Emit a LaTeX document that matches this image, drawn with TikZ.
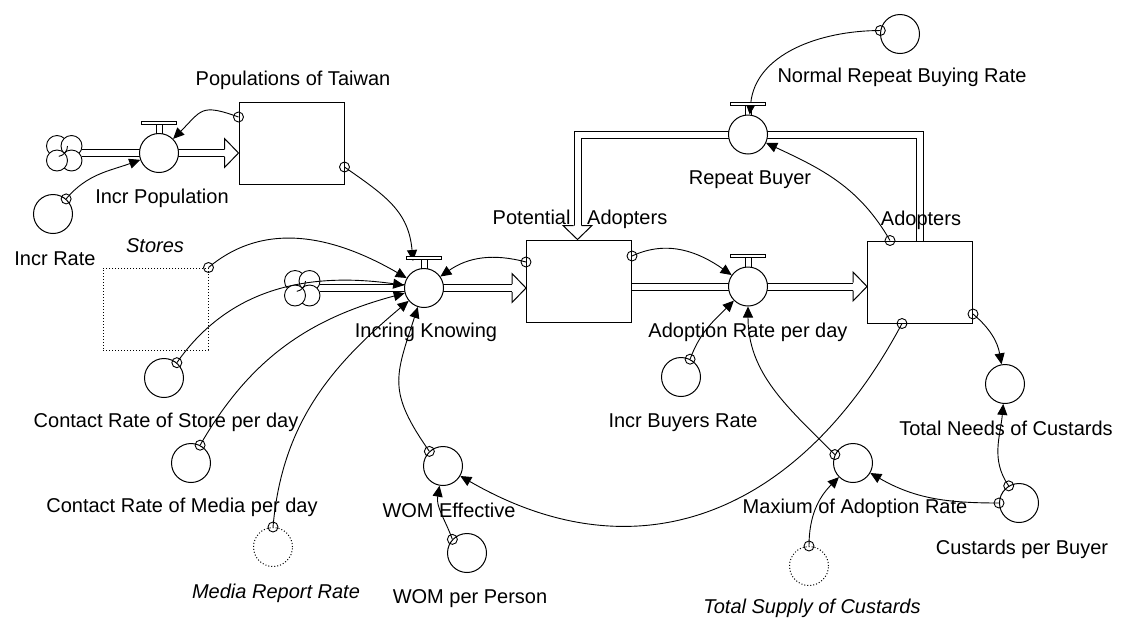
\documentclass[tikz,border=0pt]{standalone}
\usepackage{fontspec}
\setmainfont{Liberation Sans}
\usetikzlibrary{arrows.meta,backgrounds}
\pgfdeclarelayer{bg}
\pgfdeclarelayer{mid}
\pgfsetlayers{bg,mid,main}
\tikzset{
  stock/.style={draw, fill=white, line width=1pt, minimum width=105pt, minimum height=82pt, inner sep=0pt},
  valve/.style={draw, fill=white, circle, line width=1pt, minimum size=39pt, inner sep=0pt},
  aux/.style={draw, fill=white, circle, line width=1pt, minimum size=39pt, inner sep=0pt},
  ghost/.style={aux, dotted},
  ghostbox/.style={draw, dotted, line width=1pt, minimum width=105pt, minimum height=82pt, inner sep=0pt},
  cloudnode/.style={circle, minimum size=36pt, inner sep=0pt},
  lbl/.style={inner sep=0pt, font=\fontsize{20}{24}\selectfont, text height=14.5pt, text depth=4pt},
  conn/.style={line width=0.9pt, -{Triangle[length=11pt,width=10pt]}},
  pipe/.style={line width=1pt, double, double distance=6pt},
  valvetop/.pic={
    \draw[line width=0.9pt] (-3,19.5) -- (-3,29) (3,19.5) -- (3,29);
    \draw[line width=0.9pt, fill=white] (-17.5,29) rectangle (17.5,32);
  },
  cloudpic/.pic={
    \foreach \p in {(-7,7),(7.5,7),(7.5,-7.5),(-7,-7.5)}
      \draw[line width=0.9pt, fill=white] \p circle (10.5);
    \draw[line width=0.9pt] (-7,7) ++(0:10.5) arc[start angle=0, end angle=-80, radius=10.5];
  },
  pipehead/.pic={
    \path[fill=white] (0,0) -- (-14,14.5) -- (-14,-14.5) -- cycle;
    \draw[line width=1pt] (-14,4) -- (-14,14.5) -- (0,0) -- (-14,-14.5) -- (-14,-4);
  },
}
\begin{document}
\begin{tikzpicture}[x=1pt,y=1pt]
\useasboundingbox (0,0) rectangle (1121,-619);

% stocks
\node[stock] (popTW) at (291.5,-143) {};
\node[stock] (potAd) at (579,-281) {};
\node[stock] (adopt) at (920,-282) {};
\node[ghostbox] (stores) at (155.5,-309) {};

% clouds
\node[cloudnode] (c1) at (64,-153) {};
\node[cloudnode] (c2) at (302,-288) {};

% valves
\node[valve] (vIP) at (159,-153) {};
\node[valve] (vIK) at (424,-288) {};
\node[valve] (vAR) at (748,-286.5) {};
\node[valve] (vRB) at (748,-134.5) {};
\pic at (vIP) {valvetop};
\pic at (vIK) {valvetop};
\pic at (vAR) {valvetop};
\pic at (vRB) {valvetop};

% auxiliaries
\node[aux] (incrRate) at (53,-214) {};
\node[aux] (conStore) at (164,-378) {};
\node[aux] (conMedia) at (191,-463) {};
\node[ghost] (mediaRep) at (273,-547) {};
\node[aux] (womEff) at (443,-466) {};
\node[aux] (womPer) at (467,-553) {};
\node[aux] (incrBuy) at (681,-377) {};
\node[aux] (maxAd) at (853,-463) {};
\node[ghost] (totSup) at (809,-566) {};
\node[aux] (custPB) at (1019,-503) {};
\node[aux] (totNeed) at (1005,-384) {};
\node[aux] (normRep) at (900,-34) {};

% labels
\node[lbl] (lPT) at (293,-80) {Populations of Taiwan};
\node[lbl] (lIP) at (162,-198) {Incr Population};
\node[lbl] (lIR) at (55,-260) {Incr Rate};
\node[lbl] (lST) at (155,-247) {\itshape Stores};
\node[lbl] (lCS) at (166,-422) {Contact Rate of Store per day};
\node[lbl] (lCM) at (182,-507) {Contact Rate of Media per day};
\node[lbl] (lMR) at (276,-593) {\itshape Media Report Rate};
\node[lbl] (lIK) at (426,-332) {Incring Knowing};
\node[lbl] (lPA) at (580,-219) {Potential\ \ \ Adopters};
\node[lbl] (lAR) at (748,-332) {Adoption Rate per day};
\node[lbl] (lRB) at (750,-179) {Repeat Buyer};
\node[lbl] (lNR) at (902,-77) {Normal Repeat Buying Rate};
\node[lbl] (lAD) at (921,-220) {Adopters};
\node[lbl] (lIB) at (683,-422) {Incr Buyers Rate};
\node[lbl] (lTN) at (1006,-430) {Total Needs of Custards};
\node[lbl] (lMA) at (855,-508) {Maxium of Adoption Rate};
\node[lbl] (lCP) at (1022,-549) {Custards per Buyer};
\node[lbl] (lTS) at (812,-608) {\itshape Total Supply of Custards};
\node[lbl] (lWE) at (449,-512) {WOM Effective};
\node[lbl] (lWP) at (470,-598) {WOM per Person};

% connector origins
\coordinate (mIR) at (incrRate.49);
\coordinate (mPT1) at ([yshift=26pt]popTW.west);
\coordinate (mPT2) at ([yshift=-24pt]popTW.east);
\coordinate (mST) at (stores.north east);
\coordinate (mCS) at (conStore.50);
\coordinate (mCM) at (conMedia.63);
\coordinate (mMR) at (mediaRep.90);
\coordinate (mWE) at (womEff.133);
\coordinate (mWP) at (womPer.137);
\coordinate (mPA1) at ([yshift=19pt]potAd.west);
\coordinate (mPA2) at ([yshift=25pt]potAd.east);
\coordinate (mIB) at (incrBuy.63);
\coordinate (mMA) at (maxAd.155);
\coordinate (mTS) at (totSup.90);
\coordinate (mCP1) at (custPB.180);
\coordinate (mCP2) at (custPB.121);
\coordinate (mAD1) at ([yshift=-32pt]adopt.east);
\coordinate (mAD2) at ([xshift=-18pt]adopt.south);
\coordinate (mAD3) at ([xshift=-30pt]adopt.north);
\coordinate (mNR) at (normRep.170);
% arrival point at the top of Incring Knowing
\coordinate (tIK) at ([xshift=-11pt,yshift=7pt]vIK.north);

% pipe end points
\coordinate (h1) at (popTW.west |- vIP);
\coordinate (h2) at (potAd.west |- vIK);
\coordinate (h3s) at (potAd.east |- vAR);
\coordinate (h3) at (adopt.west |- vAR);
\coordinate (h4) at ([xshift=-1.5pt]potAd.north);

\begin{pgfonlayer}{bg}
  \draw[pipe] (c1.east |- vIP) -- ([xshift=-14pt]h1);
  \draw[pipe] (c2.east |- vIK) -- ([xshift=-14pt]h2);
  \draw[pipe] (h3s) -- ([xshift=-14pt]h3);
  \draw[pipe] (adopt.north) |- (vRB.center) -| ([yshift=14pt]h4);
  \pic at (h1) {pipehead};
  \pic at (h2) {pipehead};
  \pic at (h3) {pipehead};
  \pic[rotate=-90] at (h4) {pipehead};
  \pic at (c1) {cloudpic};
  \pic at (c2) {cloudpic};
\end{pgfonlayer}

\begin{pgfonlayer}{mid}
  \draw[conn] (mIR) to[out=50,in=200] (vIP);
  \draw[conn] (mPT1) to[out=160,in=45,looseness=1.5] (vIP);
  \draw[conn] (mPT2) to[out=-35,in=95,looseness=1.1] (tIK);
  \draw[conn] (mST) to[out=40,in=150] (vIK);
  \draw[conn] (mCS) to[out=55,in=172] (vIK);
  \draw[conn] (mCM) to[out=60,in=195] (vIK);
  \draw[conn] (mMR) to[out=85,in=220] (vIK);
  \draw[conn] (mWE) to[out=125,in=252,looseness=1.3] (vIK);
  \draw[conn] (mPA1) to[out=165,in=35] (vIK);
  \draw[conn] (mPA2) to[out=25,in=145] (vAR);
  \draw[conn] (mIB) to[out=70,in=225] (vAR);
  \draw[conn] (mMA) to[out=135,in=270] (vAR);
  \draw[conn] (mTS) to[out=90,in=225] (maxAd);
  \draw[conn] (mCP1) to[out=180,in=330] (maxAd);
  \draw[conn] (mCP2) to[out=125,in=265] (totNeed);
  \draw[conn] (mAD1) to[out=-40,in=100] (totNeed);
  \draw[conn] (mAD2) to[out=242,in=330,looseness=1.15] (womEff);
  \draw[conn] (mAD3) to[out=120,in=335] (vRB);
  \draw[conn] (mNR) to[out=180,in=85] (vRB);
  \draw[conn] (mWP) to[out=110,in=260] (womEff);
\end{pgfonlayer}

% origin markers
\foreach \m in {mIR,mPT1,mPT2,mST,mCS,mCM,mMR,mWE,mWP,mPA1,mPA2,mIB,mMA,mTS,mCP1,mCP2,mAD1,mAD2,mAD3,mNR}
  \draw[line width=0.9pt] (\m) circle (5);
\end{tikzpicture}
\end{document}
